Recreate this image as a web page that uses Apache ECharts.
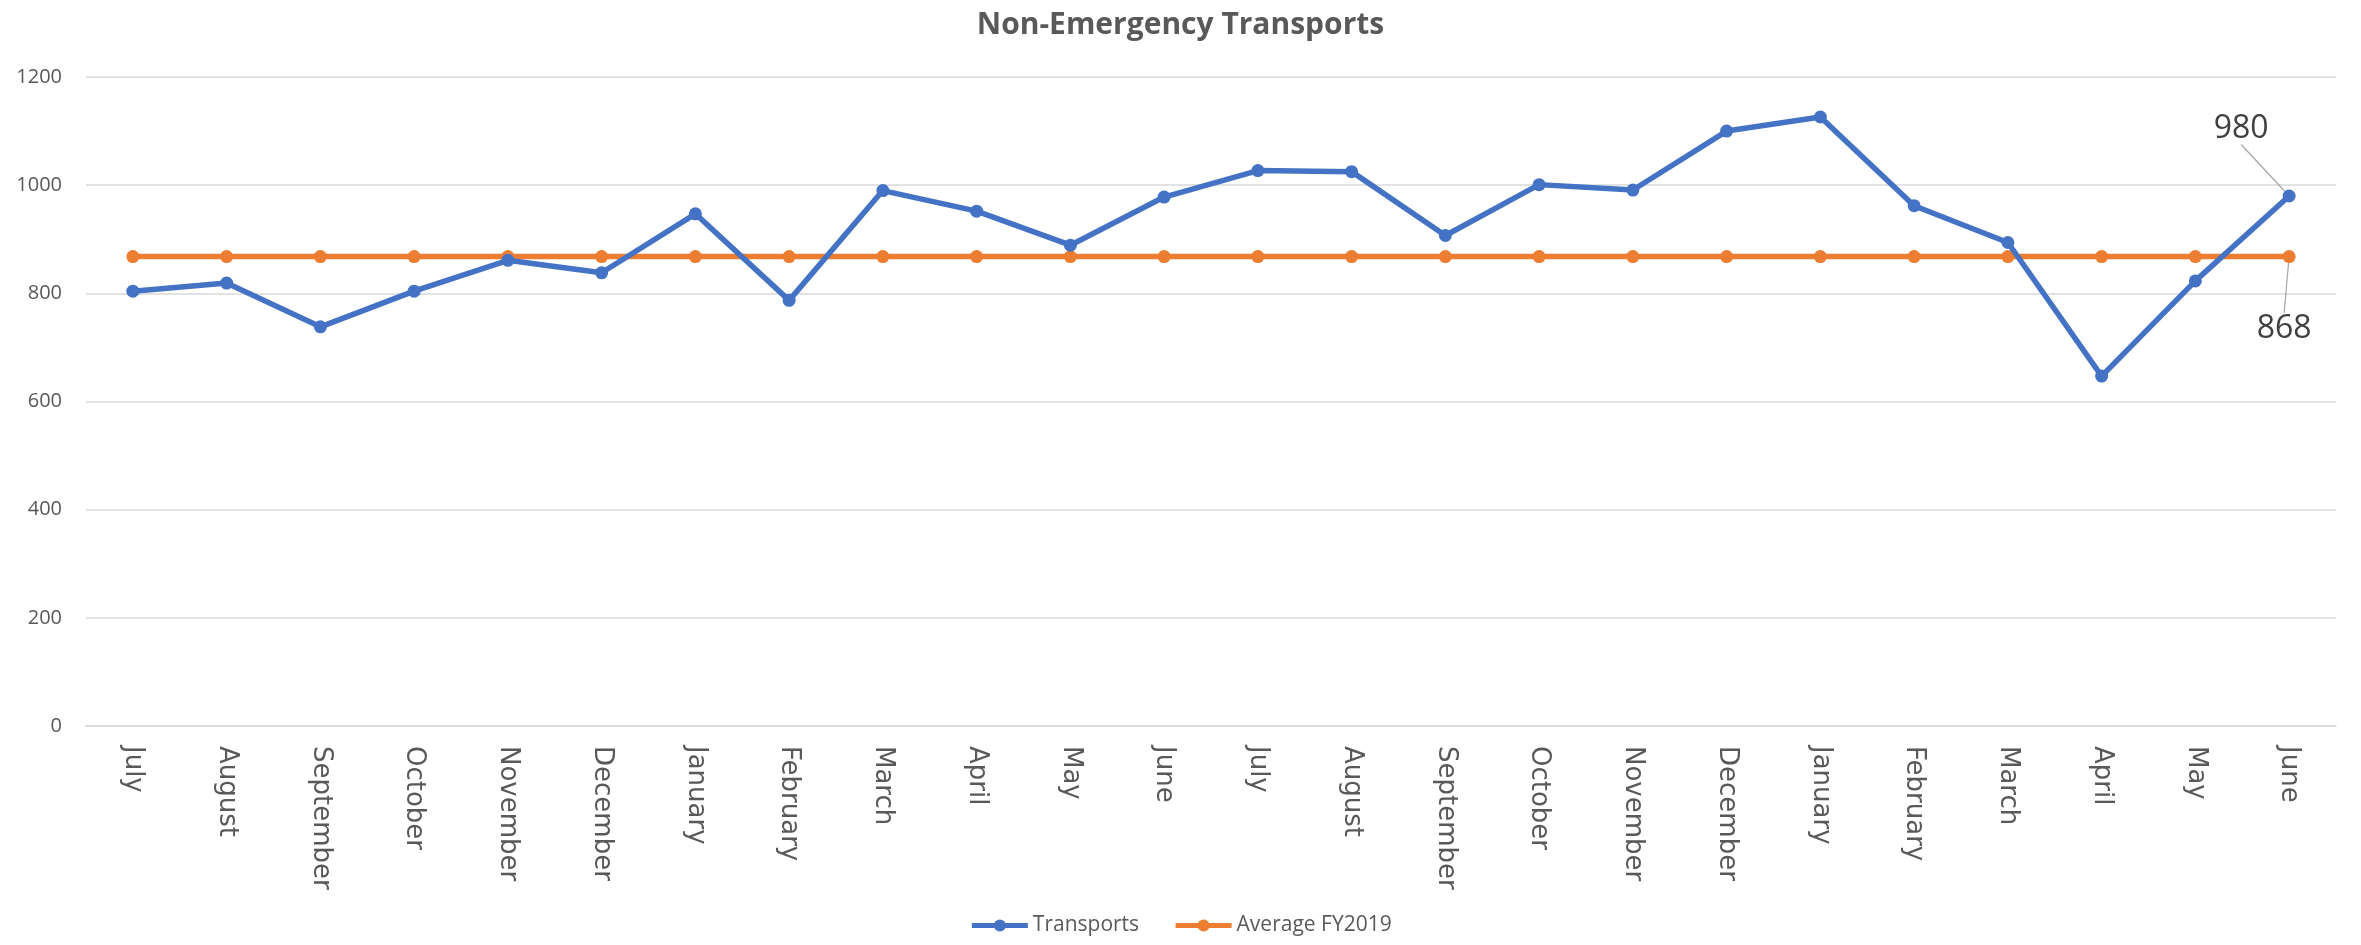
<!DOCTYPE html>
<html>
<head>
<meta charset="utf-8">
<script src="https://cdn.jsdelivr.net/npm/echarts@6/dist/echarts.min.js"></script>
<style>
html,body{margin:0;padding:0;background:#fff;}
#chart{width:2361px;height:945px;}
</style>
</head>
<body>
<div id="chart"></div>
<script>
const titleText = "Non-Emergency Transports";
const months = ["July","August","September","October","November","December","January","February","March","April","May","June",
                "July","August","September","October","November","December","January","February","March","April","May","June"];
const transports = [804,819,738,804,861,838,947,787,990,952,889,978,1027,1025,907,1001,991,1100,1126,962,894,647,823,980];
const averageFY2019 = [868,868,868,868,868,868,868,868,868,868,868,868,868,868,868,868,868,868,868,868,868,868,868,868];
const yTicks = {min:0, max:1200, interval:200};

const last = months.length - 1;
const chart = echarts.init(document.getElementById('chart'));

function withLastLabel(arr, pos){
  return arr.map((v,i)=> i===last ? {
    value: v,
    label: {show:true, position: pos, distance: 0, formatter: '{c}', fontFamily:'Open Sans', fontSize: 32, color:'#404040'},
    labelLine: {show:true, lineStyle:{color:'#a6a6a6', width:1.2}}
  } : v);
}

chart.setOption({
  animation: false,
  backgroundColor: '#fff',
  title: {
    text: titleText, left: 'center', top: 5,
    textStyle: {fontFamily:'Open Sans', fontWeight:'bold', fontSize: 30, color:'#595959'}
  },
  legend: {
    bottom: 4, left: 'center',
    itemWidth: 56, itemHeight: 15, itemGap: 34,
    lineStyle: {width: 5},
    textStyle: {fontFamily:'Open Sans', fontSize: 21, color:'#595959'},
    data: ['Transports','Average FY2019']
  },
  grid: {left: 86, right: 25, top: 77, bottom: 219, containLabel: false},
  xAxis: {
    type: 'category', data: months, boundaryGap: true,
    axisLine: {show:true, lineStyle:{color:'#d9d9d9', width:1.5}},
    axisTick: {show:false},
    axisLabel: {rotate: -90, interval: 0, margin: 20, fontFamily:'DejaVu Sans', fontSize: 26, color:'#595959'}
  },
  yAxis: {
    type: 'value', min: yTicks.min, max: yTicks.max, interval: yTicks.interval,
    axisLine: {show:false}, axisTick:{show:false},
    splitLine: {lineStyle:{color:'#d9d9d9', width:1.5}},
    axisLabel: {margin: 24, fontFamily:'Open Sans', fontSize: 20, color:'#595959', formatter: function(v){ return String(v); }}
  },
  series: [
    {
      name: 'Transports', type: 'line', data: withLastLabel(transports, 'top'),
      symbol: 'circle', symbolSize: 13,
      itemStyle: {color:'#4472C4'},
      lineStyle: {color:'#4472C4', width: 5.5},
      z: 3,
      labelLayout: function(p){ return p.dataIndex === last ? {dx: -48, dy: -45} : {}; }
    },
    {
      name: 'Average FY2019', type: 'line', data: withLastLabel(averageFY2019, 'bottom'),
      symbol: 'circle', symbolSize: 13,
      itemStyle: {color:'#ED7D31'},
      lineStyle: {color:'#ED7D31', width: 5.5},
      z: 2,
      labelLayout: function(p){ return p.dataIndex === last ? {dx: -5, dy: 50} : {}; }
    }
  ]
});
</script>
</body>
</html>
